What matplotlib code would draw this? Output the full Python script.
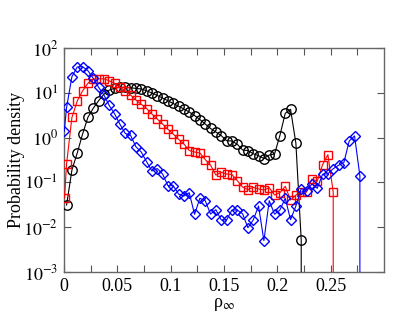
import numpy as np
import matplotlib
matplotlib.use("Agg")
import matplotlib.pyplot as plt
from matplotlib.ticker import FixedLocator, NullLocator

plt.rcParams['font.family'] = ['Liberation Serif', 'DejaVu Serif']
plt.rcParams['mathtext.fontset'] = 'stix'

# --- data (bin centres and probability densities) ---
black_x = [0.0025 + 0.005 * k for k in range(46)]
black_y = [0.0313, 0.189, 0.453, 1.20, 2.84, 4.51, 6.66, 9.26, 11.5, 12.6,
           13.3, 13.3, 13.0, 12.5, 12.2, 11.1, 9.9, 8.7, 7.65, 6.66,
           5.77, 5.0, 4.35, 3.73, 3.11, 2.53, 2.01, 1.60, 1.33, 1.11,
           0.853, 0.84, 0.713, 0.529, 0.515, 0.437, 0.394, 0.341, 0.409, 0.431,
           1.11, 3.48, 4.28, 0.746, 0.00518, 0.0]

red_x = [0.0006] + [0.0025 + 0.005 * k for k in range(52)]
red_y = [0.0455, 0.258, 2.81, 6.56, 11.0, 16.3, 20.3, 20.5, 20.5, 18.5,
         16.3, 13.3, 11.1, 8.93, 6.91, 5.54, 4.46, 3.36, 2.60, 2.01,
         1.53, 1.20, 0.916, 0.720, 0.515, 0.477, 0.453, 0.324, 0.241, 0.146,
         0.168, 0.154, 0.150, 0.110, 0.0789, 0.0687, 0.0778, 0.0713, 0.0676, 0.0762,
         0.0524, 0.0589, 0.0818, 0.0405, 0.0524, 0.0611, 0.0611, 0.119, 0.106, 0.248,
         0.415, 0.0611, 0.0]

blue_x = [0.0003] + [0.0025 + 0.005 * k for k in range(57)]
blue_y = [1.37, 4.70, 22.9, 37.7, 38.3, 31.1, 21.1, 13.3, 8.93, 5.21,
          3.40, 1.99, 1.24, 1.12, 0.626, 0.477, 0.290, 0.180, 0.204, 0.154,
          0.0844, 0.0844, 0.0551, 0.0497, 0.0589, 0.0194, 0.0442, 0.0391, 0.0197, 0.0246,
          0.0145, 0.0145, 0.0242, 0.0242, 0.0200, 0.00975, 0.0145, 0.0297, 0.00500, 0.0391,
          0.0195, 0.0242, 0.0442, 0.0147, 0.0297, 0.0731, 0.0643, 0.0921, 0.0738, 0.152,
          0.156, 0.202, 0.241, 0.278, 0.840, 1.09, 0.141, 0.0]

x_ticks = [0, 0.05, 0.1, 0.15, 0.2, 0.25]
x_ticklabels = ['0', '0.05', '0.1', '0.15', '0.2', '0.25']
y_ticks = [1e-3, 1e-2, 1e-1, 1e0, 1e1, 1e2]
y_ticklabels = [r'$10^{-3}$', r'$10^{-2}$', r'$10^{-1}$', r'$10^{0}$', r'$10^{1}$', r'$10^{2}$']

fig = plt.figure(figsize=(4.15, 3.21), dpi=100)
ax = fig.add_axes([0.154, 0.1526, 0.771, 0.6979])

ax.plot(black_x, black_y, color='black', lw=0.8, marker='o', ms=6.8,
        mfc='none', mec='black', mew=1.0, zorder=3)
ax.plot(red_x, red_y, color='#ff0000', lw=0.8, marker='s', ms=6.2,
        mfc='none', mec='#ff0000', mew=1.0, zorder=4)
ax.plot(blue_x, blue_y, color='#0000ff', lw=0.8, marker='D', ms=5.0,
        mfc='none', mec='#0000ff', mew=1.0, zorder=5)

ax.set_yscale('log')
ax.set_xlim(0, 0.3)
ax.set_ylim(1e-3, 1e2)

ax.xaxis.set_major_locator(FixedLocator(x_ticks))
ax.set_xticklabels(x_ticklabels)
ax.xaxis.set_minor_locator(FixedLocator([0.025, 0.075, 0.125, 0.175, 0.225, 0.275]))
ax.yaxis.set_major_locator(FixedLocator(y_ticks))
ax.set_yticklabels(y_ticklabels)
ax.yaxis.set_minor_locator(NullLocator())

ax.tick_params(which='both', direction='in', top=True, right=True,
               length=5, width=0.8, color='#555555', labelsize=13, pad=4)
for s in ax.spines.values():
    s.set_color('#666666')
    s.set_linewidth(1.0)

ax.set_xlabel('ρ$_\\infty$', fontsize=13, labelpad=1)
ax.set_ylabel('Probability density', fontsize=13, labelpad=-1)

fig.savefig('out.png', dpi=100)
